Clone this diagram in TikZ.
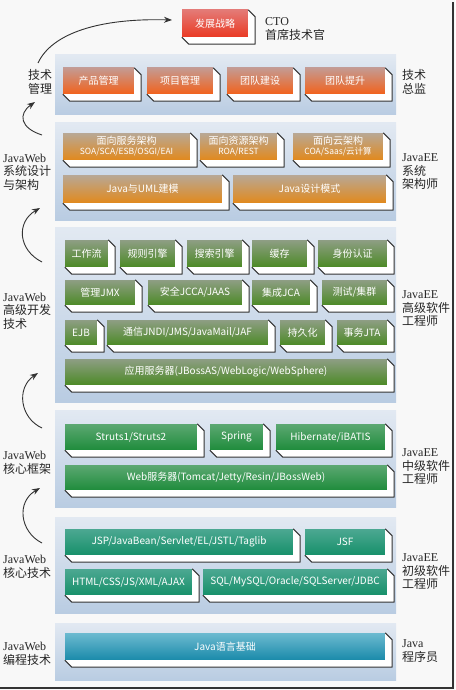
\documentclass[tikz,border=0pt]{standalone}
\usepackage{fontspec}
\setmainfont{Noto Sans CJK SC}
\newfontfamily\latf{Liberation Serif}
\usetikzlibrary{calc,arrows.meta}
\definecolor{bgc}{HTML}{F8F8F8}
\definecolor{frm}{HTML}{333333}
\definecolor{pnlT}{HTML}{E2E9F2}
\definecolor{pnlB}{HTML}{B9CCE2}
\definecolor{redT}{HTML}{E47A76}
\definecolor{redB}{HTML}{EA3A24}
\definecolor{orT}{HTML}{C49A92}
\definecolor{orB}{HTML}{F2621C}
\definecolor{gdT}{HTML}{B8A896}
\definecolor{gdB}{HTML}{E2891C}
\definecolor{olT}{HTML}{8E9E84}
\definecolor{olB}{HTML}{4C8A26}
\definecolor{grT}{HTML}{5CA872}
\definecolor{grB}{HTML}{1F8C3C}
\definecolor{tlT}{HTML}{4CA892}
\definecolor{tlB}{HTML}{17906A}
\definecolor{blT}{HTML}{6CBAD0}
\definecolor{blB}{HTML}{1A8AAA}
\tikzset{
  panel/.style={draw=none,inner sep=0,top color=pnlT,bottom color=pnlB},
  face/.style={draw=none,inner sep=0,text=white,align=center,
    font=\fontsize{10}{12}\selectfont},
  redbox/.style={top color=redT,bottom color=redB},
  orbox/.style={top color=orT,bottom color=orB},
  gdbox/.style={top color=gdT,bottom color=gdB},
  olbox/.style={top color=olT,bottom color=olB},
  grbox/.style={top color=grT,bottom color=grB},
  tlbox/.style={top color=tlT,bottom color=tlB},
  blbox/.style={top color=blT,bottom color=blB},
  extrfill/.style={fill=white,draw=none},
  extrline/.style={draw=frm,line width=1pt,line join=round},
  sidelbl/.style={inner sep=0,anchor=west,align=left,text=black!85,
    font=\fontsize{12}{13.5}\selectfont},
  arr/.style={draw=frm,line width=0.9pt,-{Stealth[length=8pt,width=6pt]}},
}
\newcommand\mybox[7]{%
  \node[face,#6,minimum width={(#4-#2)*1pt},minimum height={(#5-#3)*1pt}]
    (#1) at ({(#2+#4)/2},{(#3+#5)/2}) {#7};
  \path[extrfill] (#1.south west) -- ($(#1.south west)+(7,7)$)
    -- ($(#1.south east)+(7,7)$) -- ($(#1.north east)+(7,7)$)
    -- (#1.north east) -- (#1.south east) -- cycle;
  \path[extrline] (#1.south west) -- ($(#1.south west)+(7,7)$)
    -- ($(#1.south east)+(7,7)$) -- ($(#1.north east)+(7,7)$)
    -- (#1.north east);
}
\begin{document}
\begin{tikzpicture}[x=1pt,y=-1pt]
\useasboundingbox (0,0) rectangle (455,690);
\fill[bgc] (0,0) rectangle (455,690);
\draw[frm,line width=2pt] (0,688) -- (453,688) -- (453,2);

% panels
\node[panel,minimum width=341pt,minimum height=60pt] (p1) at (225.5,85) {};
\node[panel,minimum width=341pt,minimum height=97pt] (p2) at (225.5,171.5) {};
\node[panel,minimum width=341pt,minimum height=175pt] (p3) at (225.5,314.5) {};
\node[panel,minimum width=341pt,minimum height=97pt] (p4) at (225.5,458.5) {};
\node[panel,minimum width=341pt,minimum height=96pt] (p5) at (225.5,565) {};
\node[panel,minimum width=341pt,minimum height=57pt] (p6) at (225.5,651.5) {};

% CTO
\mybox{cto}{182}{10}{248}{37}{redbox}{发展战略}
% technical management
\mybox{tm1}{63}{68}{134}{94}{orbox}{产品管理}
\mybox{tm2}{147}{68}{213}{94}{orbox}{项目管理}
\mybox{tm3}{227}{68}{293}{94}{orbox}{团队建设}
\mybox{tm4}{305}{68}{385}{94}{orbox}{团队提升}
% architecture
\mybox{ar1}{63}{133}{190}{160}{gdbox}{面向服务架构\\[-2pt]{\fontsize{8.5}{10}\selectfont SOA/SCA/ESB/OSGI/EAI}}
\mybox{ar2}{200}{133}{277}{160}{gdbox}{面向资源架构\\[-2pt]{\fontsize{8.5}{10}\selectfont ROA/REST}}
\mybox{ar3}{293}{133}{383}{160}{gdbox}{面向云架构\\[-2pt]{\fontsize{8.5}{10}\selectfont COA/Saas/云计算}}
\mybox{ar4}{63}{175}{222}{203}{gdbox}{Java与UML建模}
\mybox{ar5}{233}{175}{386}{203}{gdbox}{Java设计模式}
% advanced
\mybox{ad1}{65}{240}{108}{267}{olbox}{工作流}
\mybox{ad2}{120}{240}{175}{267}{olbox}{规则引擎}
\mybox{ad3}{187}{240}{242}{267}{olbox}{搜索引擎}
\mybox{ad4}{252}{240}{307}{267}{olbox}{缓存}
\mybox{ad5}{318}{240}{387}{267}{olbox}{身份认证}
\mybox{ad6}{65}{280}{135}{305}{olbox}{管理JMX}
\mybox{ad7}{148}{280}{242}{305}{olbox}{安全JCCA/JAAS}
\mybox{ad8}{252}{280}{310}{305}{olbox}{集成JCA}
\mybox{ad9}{322}{280}{387}{305}{olbox}{测试/集群}
\mybox{ad10}{65}{320}{97}{345}{olbox}{EJB}
\mybox{ad11}{107}{320}{268}{345}{olbox}{通信JNDI/JMS/JavaMail/JAF}
\mybox{ad12}{280}{320}{325}{345}{olbox}{持久化}
\mybox{ad13}{337}{320}{387}{345}{olbox}{事务JTA}
\mybox{ad14}{65}{359}{387}{385}{olbox}{应用服务器(JBossAS/WebLogic/WebSphere)}
% middle
\mybox{md1}{65}{424}{197}{450}{grbox}{Struts1/Struts2}
\mybox{md2}{210}{424}{263}{450}{grbox}{Spring}
\mybox{md3}{276}{424}{385}{450}{grbox}{Hibernate/iBATIS}
\mybox{md4}{65}{465}{387}{490}{grbox}{Web服务器(Tomcat/Jetty/Resin/JBossWeb)}
% junior
\mybox{jr1}{65}{529}{293}{555}{tlbox}{JSP/JavaBean/Servlet/EL/JSTL/Taglib}
\mybox{jr2}{305}{529}{385}{555}{tlbox}{JSF}
\mybox{jr3}{65}{569}{192}{595}{tlbox}{HTML/CSS/JS/XML/AJAX}
\mybox{jr4}{203}{569}{387}{595}{tlbox}{SQL/MySQL/Oracle/SQLServer/JDBC}
% java
\mybox{jv1}{65}{633}{385}{660}{blbox}{Java语言基础}

% right labels
\node[sidelbl] (r0) at (265,29) {{\latf CTO}\\首席技术官};
\node[sidelbl] (r1) at (402,82) {技术\\总监};
\node[sidelbl] (r2) at (402,172) {{\latf JavaEE}\\系统\\架构师};
\node[sidelbl] (r3) at (402,309) {{\latf JavaEE}\\高级软件\\工程师};
\node[sidelbl] (r4) at (402,467) {{\latf JavaEE}\\中级软件\\工程师};
\node[sidelbl] (r5) at (402,572) {{\latf JavaEE}\\初级软件\\工程师};
\node[sidelbl] (r6) at (402,651) {{\latf Java}\\程序员};

% left labels
\node[sidelbl] (l1) at (28,82) {技术\\管理};
\node[sidelbl] (l2) at (3,172) {{\latf JavaWeb}\\系统设计\\与架构};
\node[sidelbl] (l3) at (3,311) {{\latf JavaWeb}\\高级开发\\技术};
\node[sidelbl] (l4) at (3,463) {{\latf JavaWeb}\\核心框架};
\node[sidelbl] (l5) at (3,567) {{\latf JavaWeb}\\核心技术};
\node[sidelbl] (l6) at (3,654) {{\latf JavaWeb}\\编程技术};

% arrows
\coordinate (a1s) at (42,543); \coordinate (a1e) at (40,488);
\coordinate (a2s) at (42,428); \coordinate (a2e) at (38,373);
\coordinate (a3s) at (42,262); \coordinate (a3e) at (40,208);
\coordinate (a4s) at (42,135); \coordinate (a4e) at (35,102);
\coordinate (a5s) at (38,63);  \coordinate (a5e) at (172,20);
\draw[arr] (a1s) .. controls (20,532) and (16,502) .. (a1e);
\draw[arr] (a2s) .. controls (20,418) and (16,388) .. (a2e);
\draw[arr] (a3s) .. controls (18,250) and (16,222) .. (a3e);
\draw[arr] (a4s) .. controls (20,128) and (18,114) .. (a4e);
\draw[arr] (a5s) .. controls (52,33) and (100,18) .. (a5e);
\end{tikzpicture}
\end{document}
